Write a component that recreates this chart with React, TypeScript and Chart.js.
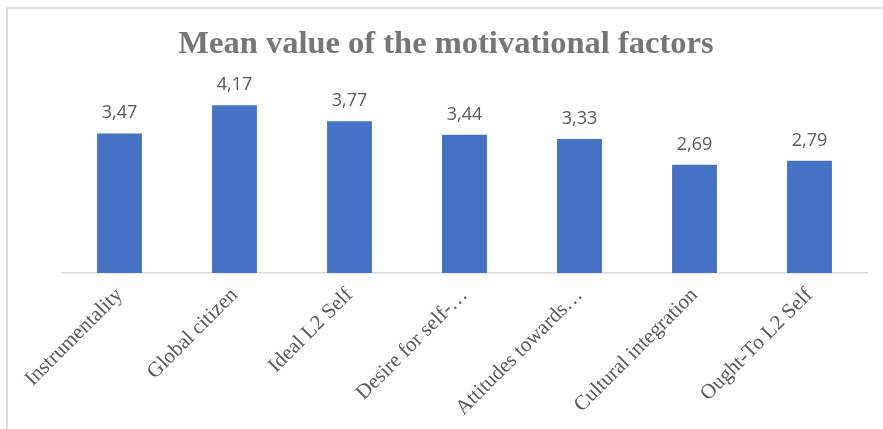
import React, { useEffect, useRef } from "react";
import { Chart, registerables } from "chart.js";

Chart.register(...registerables);

const TITLE = "Mean value of the motivational factors";
const categories = [
  "Instrumentality",
  "Global citizen",
  "Ideal L2 Self",
  "Desire for self-…",
  "Attitudes towards…",
  "Cultural integration",
  "Ought-To L2 Self",
];
const meanValues = [3.47, 4.17, 3.77, 3.44, 3.33, 2.69, 2.79];

const BAR_COLOR = "#4472C4";
const TEXT_COLOR = "#595959";

const valueLabelPlugin = {
  id: "valueLabels",
  afterDatasetsDraw(chart: any) {
    const ctx = chart.ctx;
    ctx.save();
    ctx.font = "18px 'Open Sans', sans-serif";
    ctx.fillStyle = TEXT_COLOR;
    ctx.textAlign = "center";
    ctx.textBaseline = "alphabetic";
    const meta = chart.getDatasetMeta(0);
    meta.data.forEach((bar: any, i: number) => {
      const v = chart.data.datasets[0].data[i] as number;
      ctx.fillText(v.toFixed(2).replace(".", ","), bar.x, bar.y - 15);
    });
    ctx.restore();
  },
};

const titlePlugin = {
  id: "customTitle",
  afterDraw(chart: any) {
    const ctx = chart.ctx;
    ctx.save();
    ctx.font = "bold 32.5px 'Liberation Serif', serif";
    ctx.fillStyle = "#767676";
    ctx.textAlign = "center";
    ctx.textBaseline = "alphabetic";
    ctx.fillText(TITLE, 446, 53);
    ctx.restore();
  },
};

export default function App() {
  const ref = useRef<HTMLCanvasElement | null>(null);
  useEffect(() => {
    if (!ref.current) return;
    const chart = new Chart(ref.current, {
      type: "bar",
      data: {
        labels: categories,
        datasets: [
          {
            data: meanValues,
            backgroundColor: BAR_COLOR,
            borderWidth: 0,
            categoryPercentage: 1,
            barPercentage: 0.39,
          },
        ],
      },
      options: {
        animation: false,
        responsive: false,
        maintainAspectRatio: false,
        layout: { padding: { left: 62, right: 16, top: 92, bottom: 0 } },
        plugins: {
          legend: { display: false },
          title: { display: false },
          tooltip: { enabled: false },
        },
        scales: {
          x: {
            grid: { display: false, drawTicks: false },
            border: { display: true, color: "#d9d9d9", width: 1.5 },
            ticks: {
              color: TEXT_COLOR,
              font: { family: "'Liberation Serif', serif", size: 21 },
              minRotation: 45,
              maxRotation: 45,
              autoSkip: false,
              padding: 10,
            },
            afterFit(scale: any) {
              scale.height = 156;
              scale.paddingLeft = 0;
              scale.paddingRight = 0;
            },
          },
          y: {
            display: false,
            min: 0,
            max: 4.5,
          },
        },
      },
      plugins: [valueLabelPlugin, titlePlugin],
    });
    return () => chart.destroy();
  }, []);

  return (
    <div style={{ position: "fixed", left: 0, top: 0, width: 883, height: 429, background: "#fff", overflow: "hidden" }}>
      <div
        style={{
          position: "absolute",
          left: 6,
          top: 7,
          width: 900,
          height: 450,
          borderTop: "2px solid #dedede",
          borderLeft: "2px solid #dedede",
        }}
      />
      <canvas ref={ref} width={883} height={429} style={{ position: "absolute", left: 0, top: 0, width: 883, height: 429 }} />
    </div>
  );
}
